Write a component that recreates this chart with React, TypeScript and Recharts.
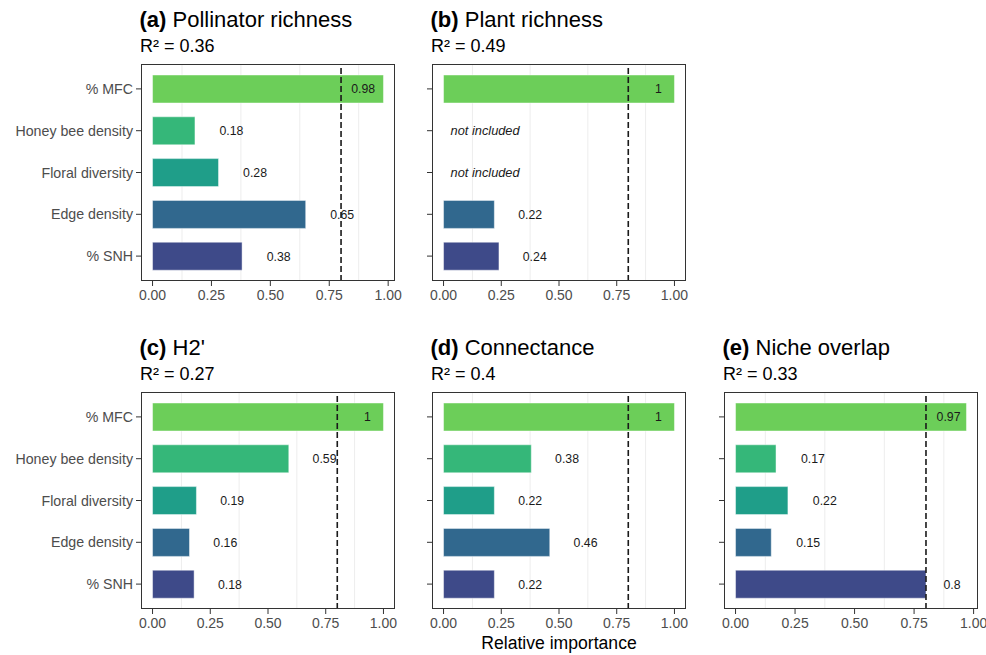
import React from 'react';
import { BarChart, Bar, XAxis, YAxis, Cell, LabelList, ReferenceLine, ReferenceDot, CartesianGrid } from 'recharts';

const predictors = ['% MFC', 'Honey bee density', 'Floral diversity', 'Edge density', '% SNH'];
const pollinatorRichness = [0.98, 0.18, 0.28, 0.65, 0.38];
const plantRichness = [1, null, null, 0.22, 0.24];
const h2 = [1, 0.59, 0.19, 0.16, 0.18];
const connectance = [1, 0.38, 0.22, 0.46, 0.22];
const nicheOverlap = [0.97, 0.17, 0.22, 0.15, 0.8];
const xTicks = [0, 0.25, 0.5, 0.75, 1];
const minorTicks = [0.125, 0.375, 0.625, 0.875];
const threshold = 0.8;

// viridis-style fill, one per predictor
const fills = ['#6CCE59', '#35B779', '#1F9E89', '#31688E', '#3E4A89'];

const FONT = '"Liberation Sans", Arial, Helvetica, sans-serif';
const BOX_W = 254;
const BOX_H = 217;
const X_AXIS_H = 40;
const RIGHT_PAD = 24;

const panels = [
  { tag: '(a)', title: 'Pollinator richness', r2: '0.36', values: pollinatorRichness, left: 141, top: 64, names: true },
  { tag: '(b)', title: 'Plant richness', r2: '0.49', values: plantRichness, left: 432, top: 64, names: false },
  { tag: '(c)', title: "H2'", r2: '0.27', values: h2, left: 141, top: 392, names: true },
  { tag: '(d)', title: 'Connectance', r2: '0.4', values: connectance, left: 432, top: 392, names: false },
  { tag: '(e)', title: 'Niche overlap', r2: '0.33', values: nicheOverlap, left: 724, top: 392, names: false },
];

// value text sits right of the bar; long bars get it tucked inside the end
const ValueLabel = (props: any) => {
  const { x, y, width, height, value } = props;
  if (value == null || !value) return null;
  const perUnit = width / value;
  const centre = value + 0.155;
  const inside = centre > 0.9;
  const lx = x + (inside ? 0.945 : centre) * perUnit;
  return (
    <text x={lx} y={y + height / 2} dy="0.355em" textAnchor={inside ? 'end' : 'middle'}
      fill="#1a1a1a" fontSize={12.3} fontFamily={FONT}>
      {String(value)}
    </text>
  );
};

function Panel({ p }: { p: (typeof panels)[number] }) {
  const rows = predictors.map((name, i) => ({ name, value: p.values[i] }));
  const max = Math.max(...p.values.filter((v): v is number => v != null));
  const domain: [number, number] = [-0.05 * max, 1.05 * max];
  const yW = p.names ? 140 : 20;

  return (
    <>
      <div style={{ position: 'absolute', left: p.left - yW, top: p.top }}>
        <BarChart width={yW + BOX_W + RIGHT_PAD} height={BOX_H + X_AXIS_H} layout="vertical" data={rows}
          margin={{ top: 0, right: RIGHT_PAD, bottom: 0, left: 0 }}>
          <CartesianGrid horizontal={false} verticalValues={minorTicks} stroke="#ededed" strokeWidth={1} />
          <XAxis type="number" domain={domain} allowDataOverflow ticks={xTicks} height={X_AXIS_H}
            tickFormatter={(v: number) => v.toFixed(2)} axisLine={false} tickSize={5} tickMargin={4}
            tickLine={{ stroke: '#333333' }}
            tick={{ fill: '#4d4d4d', fontSize: 14, fontFamily: FONT }} interval={0} />
          <YAxis type="category" dataKey="name" width={yW} axisLine={false} tickSize={5} tickMargin={3}
            padding={{ top: 4, bottom: 4 }} interval={0}
            tickLine={{ stroke: '#333333' }}
            tickFormatter={p.names ? undefined : () => ''}
            tick={{ fill: '#4d4d4d', fontSize: 14.2, fontFamily: FONT }} />
          <Bar dataKey="value" barSize={28} isAnimationActive={false}
            stroke="rgba(255,255,255,0.45)" strokeWidth={1}>
            {rows.map((r, i) => (
              <Cell key={r.name} fill={fills[i]} />
            ))}
            <LabelList dataKey="value" content={ValueLabel} />
          </Bar>
          {rows.filter((r) => r.value == null).map((r) => (
            <ReferenceDot key={r.name} x={0.18} y={r.name} r={0} isFront
              shape={(s: any) => (
                <text x={s.cx} y={s.cy} dy="0.355em" textAnchor="middle" fontStyle="italic"
                  fill="#1a1a1a" fontSize={12.8} fontFamily={FONT}>not included</text>
              )} />
          ))}
          <ReferenceLine x={threshold} stroke="#1a1a1a" strokeWidth={1.6} strokeDasharray="6 3" />
        </BarChart>
      </div>
      <div style={{
        position: 'absolute', left: p.left, top: p.top, width: BOX_W, height: BOX_H,
        border: '1px solid #333333', boxSizing: 'border-box', pointerEvents: 'none',
      }} />
    </>
  );
}

export default function App() {
  return (
    <div style={{ position: 'absolute', left: 0, top: 0, width: 986, height: 655, background: '#fff', fontFamily: FONT }}>
      <svg width={986} height={655} style={{ position: 'absolute', left: 0, top: 0 }}>
        {panels.map((p) => (
          <g key={p.tag} fontFamily={FONT} fill="#000">
            <text x={p.left - 1.5} y={p.top - 37.5} fontSize={22}>
              <tspan fontWeight="bold">{p.tag}</tspan>
              <tspan> {p.title}</tspan>
            </text>
            <text x={p.left - 1} y={p.top - 12} fontSize={18}>R² = {p.r2}</text>
          </g>
        ))}
        <text x={559} y={649} textAnchor="middle" fontSize={17.6} fontFamily={FONT} fill="#000">
          Relative importance
        </text>
      </svg>
      {panels.map((p) => (
        <Panel key={p.tag} p={p} />
      ))}
    </div>
  );
}
